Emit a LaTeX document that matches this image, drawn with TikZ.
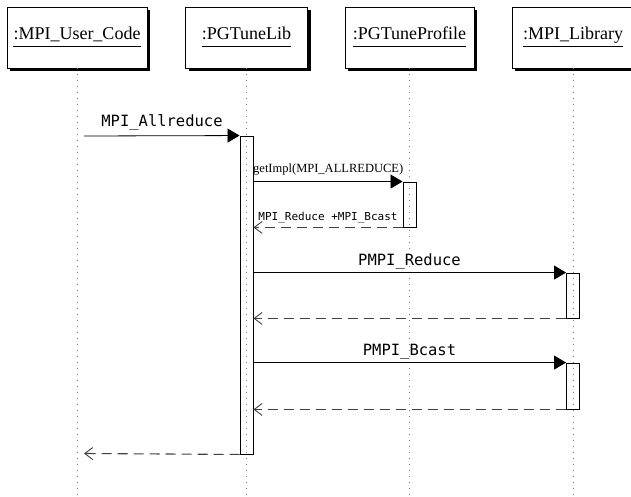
\documentclass[tikz,border=0pt]{standalone}
\usepackage{fontspec}
\setmainfont{Liberation Serif}
\newfontfamily\monof{DejaVu Sans Mono}
\usetikzlibrary{arrows.meta,shadows,calc}
\begin{document}
\begin{tikzpicture}[x=1pt,y=-1pt,
  obj/.style={draw,line width=0.8pt,fill=white,minimum height=61pt,inner sep=0pt,
    drop shadow={shadow xshift=3pt,shadow yshift=-3pt,fill=black,opacity=1}},
  objtext/.style={inner sep=0pt,anchor=base,font=\fontsize{18}{20}\selectfont},
  uline/.style={line width=0.9pt},
  life/.style={draw=gray,line width=1pt,dash pattern=on 1pt off 5pt},
  act/.style={draw,line width=0.9pt,minimum width=13pt,inner sep=0pt},
  call/.style={line width=0.8pt,-{Triangle[length=12pt,width=14pt]}},
  ret/.style={draw=black!75,line width=1.1pt,dash pattern=on 10pt off 6pt,
    -{Straight Barb[length=8pt,width=12pt,line width=0.9pt]}},
  msgmono/.style={inner sep=0pt,anchor=base,font=\monof\fontsize{15.5}{17}\selectfont},
  msgsmall/.style={inner sep=0pt,anchor=base,font=\monof\fontsize{11}{13}\selectfont},
  msgserif/.style={inner sep=0pt,anchor=base west,font=\fontsize{12.5}{14}\selectfont}]
\useasboundingbox (0,0) rectangle (631,497);
\clip (0,0) rectangle (631,497);

% lifelines
\coordinate (l1) at (77,497);
\coordinate (l2) at (246.5,497);
\coordinate (l3) at (409.5,497);
\coordinate (l4) at (573,497);

% objects
\node[obj,minimum width=140pt] (o1) at (77,37.5) {};
\node[obj,minimum width=122pt] (o2) at (246.5,37.5) {};
\node[obj,minimum width=129pt] (o3) at (409.5,37.5) {};
\node[obj,minimum width=122pt] (o4) at (573,37.5) {};

\draw[life] (o1.south) -- (l1);
\draw[life] (o2.south) -- (l2);
\draw[life] (o3.south) -- (l3);
\draw[life] (o4.south) -- (l4);

\node[objtext] (t1) at (77,40) {:MPI\_User\_Code};
\node[objtext] (t2) at (246.5,40) {:PGTuneLib};
\node[objtext] (t3) at (409.5,40) {:PGTuneProfile};
\node[objtext] (t4) at (573,40) {:MPI\_Library};
\draw[uline] ($(t1.base west)+(0,6)$) -- ($(t1.base east)+(0,6)$);
\draw[uline] ($(t2.base west)+(0,6)$) -- ($(t2.base east)+(0,6)$);
\draw[uline] ($(t3.base west)+(0,6)$) -- ($(t3.base east)+(0,6)$);
\draw[uline] ($(t4.base west)+(0,6)$) -- ($(t4.base east)+(0,6)$);

% activations
\node[act,minimum height=318pt] (a2) at (246.5,295) {};
\node[act,minimum height=45pt] (a3) at (409.5,204.5) {};
\node[act,minimum height=45pt] (a4a) at (573,295.5) {};
\node[act,minimum height=46pt] (a4b) at (573,386) {};

\coordinate (ucstart) at (84,136);
\coordinate (ucend) at (84,453.5);

% messages
\draw[call] (ucstart) -- (a2.north west);
\node[msgmono] (m1) at (162,127) {MPI\_Allreduce};
\draw[call] (a2.east |- a3.north) -- (a3.north west);
\node[msgserif] (g) at (253,172) {getImpl(MPI\_ALLREDUCE)};
\draw[ret] (a3.south west) -- (a3.south west -| a2.east);
\node[msgsmall] (r1) at (328,220) {MPI\_Reduce +MPI\_Bcast};

\draw[call] (a2.east |- a4a.north) -- (a4a.north west);
\node[msgmono] (m4) at (409.5,265) {PMPI\_Reduce};
\draw[ret] (a4a.south west) -- (a4a.south west -| a2.east);

\draw[call] (a2.east |- a4b.north) -- (a4b.north west);
\node[msgmono] (m5) at (409.5,355) {PMPI\_Bcast};
\draw[ret] (a4b.south west) -- (a4b.south west -| a2.east);

\draw[ret] (a2.south west) -- (ucend);
\end{tikzpicture}
\end{document}
